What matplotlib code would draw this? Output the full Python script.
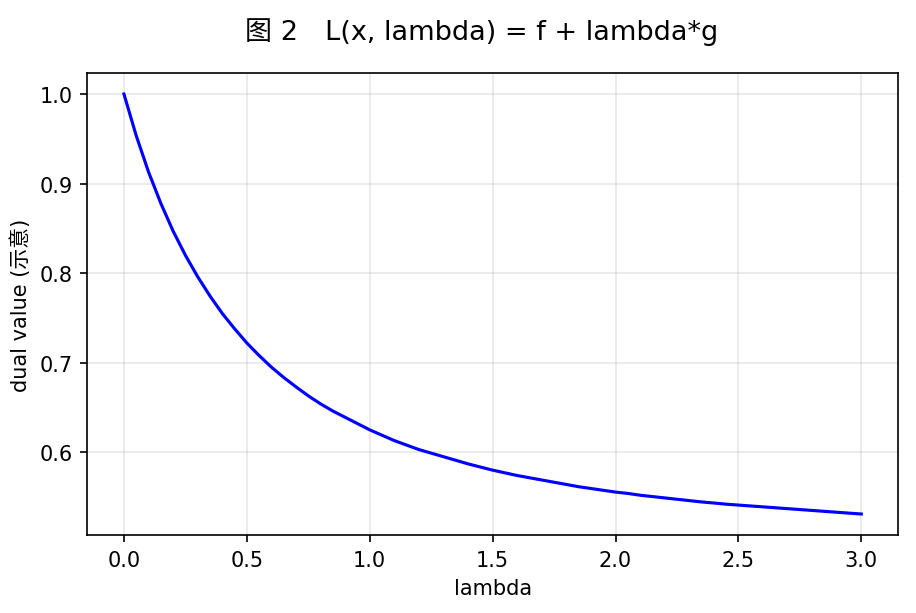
import matplotlib
matplotlib.use('Agg')
import matplotlib.pyplot as plt

# values
lam = [0.00, 0.05, 0.10, 0.15, 0.20, 0.25, 0.30, 0.35, 0.40, 0.45,
       0.50, 0.55, 0.60, 0.65, 0.70, 0.75, 0.80, 0.85, 0.90, 0.95,
       1.00, 1.05, 1.10, 1.15, 1.20, 1.25, 1.30, 1.35, 1.40, 1.45,
       1.50, 1.55, 1.60, 1.65, 1.70, 1.75, 1.80, 1.85, 1.90, 1.95,
       2.00, 2.05, 2.10, 2.15, 2.20, 2.25, 2.30, 2.35, 2.40, 2.45,
       2.50, 2.55, 2.60, 2.65, 2.70, 2.75, 2.80, 2.85, 2.90, 2.95, 3.00]
dual = [1.000, 0.9535, 0.913, 0.878, 0.847, 0.820, 0.796, 0.7745, 0.755, 0.738,
        0.722, 0.708, 0.695, 0.6835, 0.673, 0.663, 0.654, 0.646, 0.639, 0.632,
        0.625, 0.619, 0.613, 0.608, 0.603, 0.599, 0.595, 0.591, 0.587, 0.5835,
        0.580, 0.577, 0.574, 0.5715, 0.569, 0.5665, 0.564, 0.5615, 0.5595, 0.5575,
        0.5555, 0.554, 0.552, 0.5505, 0.549, 0.5475, 0.546, 0.5445, 0.5433, 0.542,
        0.541, 0.540, 0.539, 0.538, 0.537, 0.536, 0.535, 0.534, 0.533, 0.532, 0.531]

plt.rcParams['font.family'] = ['DejaVu Sans', 'Noto Sans CJK SC']

fig, ax = plt.subplots(figsize=(6.11, 4.093), dpi=150)
fig.subplots_adjust(left=0.095, right=0.980, top=0.8795, bottom=0.127)

ax.plot(lam, dual, color='blue', lw=1.5)
ax.grid(True, alpha=0.3)
ax.set_xlabel('lambda')
ax.set_ylabel('dual value (示意)')
fig.suptitle('图 2\u3000L(x, lambda) = f + lambda*g', fontsize=13, x=0.526, y=0.97)

fig.savefig('out.png', dpi=150)
